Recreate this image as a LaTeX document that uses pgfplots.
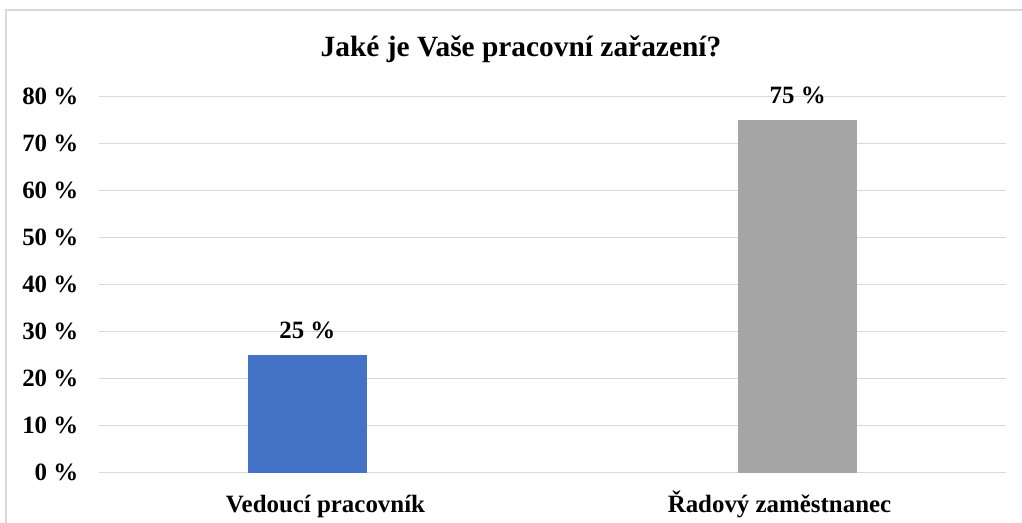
\documentclass[border=0pt]{standalone}
\usepackage{pgfplots}
\pgfplotsset{compat=1.18}
\usepackage{fontspec}
\setmainfont{Liberation Serif}
\definecolor{cblue}{RGB}{68,114,196}
\definecolor{cgray}{RGB}{165,165,165}
\definecolor{cgrid}{RGB}{217,217,217}
\begin{document}
\begin{tikzpicture}[x=1bp,y=1bp]
\useasboundingbox (0,0) rectangle (1022,523);
\draw[cgrid, line width=1.2bp] (6,0) -- (6,513) -- (1022,513);
\node[anchor=base, font=\bfseries\fontsize{29.5}{34}\selectfont] at (521,466) {Jaké je Vaše pracovní zařazení?};
\begin{axis}[
  at={(99bp,50.3bp)}, anchor=south west,
  scale only axis, width=907bp, height=376bp,
  xmin=-0.425, xmax=1.425, ymin=0, ymax=80,
  /pgf/number format/assume math mode=true,
  axis line style={draw=none}, major tick style={draw=none},
  ymajorgrids, grid style={cgrid, line width=1.3bp},
  xtick={0.037,0.963}, xticklabels={Vedoucí pracovník, Řadový zaměstnanec},
  ytick={0,10,...,80},
  yticklabels={0~\%,10~\%,20~\%,30~\%,40~\%,50~\%,60~\%,70~\%,80~\%},
  ticklabel style={font=\bfseries\fontsize{25}{29}\selectfont},
  xticklabel style={anchor=base, yshift=-36bp, inner sep=0pt},
  yticklabel style={anchor=east, xshift=-20.5bp, inner sep=0pt},
  ybar, bar width=119.5bp,
  nodes near coords={\pgfmathprintnumber{\pgfplotspointmeta}~\%},
  every node near coord/.append style={anchor=base, yshift=17bp, inner sep=0pt, font=\bfseries\fontsize{25}{29}\selectfont},
  clip=false,
]
\addplot[fill=cblue, draw=none, bar shift=0pt] coordinates {(0,25)};
\addplot[fill=cgray, draw=none, bar shift=0pt] coordinates {(1,75)};
\end{axis}
\end{tikzpicture}
\end{document}
